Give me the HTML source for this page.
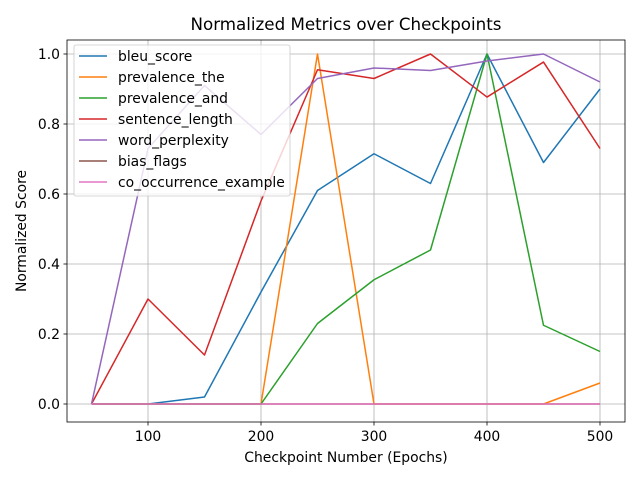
<!DOCTYPE html>
<html><head><meta charset="utf-8"><style>
body{margin:0;background:#fff;font-family:"Liberation Sans","DejaVu Sans",sans-serif}
svg text{font-family:"DejaVu Sans","Liberation Sans",sans-serif;fill:#000}
</style></head><body>
<svg id="chart" width="640" height="480" xmlns="http://www.w3.org/2000/svg">
<rect width="640" height="480" fill="#fff"/>
<g id="grid"></g><g id="lines"></g><g id="axes"></g><g id="legend"></g>
</svg>
<script>
const epochs=[50,100,150,200,250,300,350,400,450,500];
const xTicks=[100,200,300,400,500];
const yTicks=[0.0,0.2,0.4,0.6,0.8,1.0];
const seriesNames=["bleu_score","prevalence_the","prevalence_and","sentence_length","word_perplexity","bias_flags","co_occurrence_example"];
const seriesColors=["#1f77b4","#ff7f0e","#2ca02c","#d62728","#9467bd","#8c564b","#e377c2"];
const bleuScore=[0,0,0.02,0.32,0.61,0.715,0.63,1.0,0.69,0.90];
const prevalenceThe=[0,0,0,0,1.0,0,0,0,0,0.06];
const prevalenceAnd=[0,0,0,0,0.23,0.355,0.44,1.0,0.225,0.15];
const sentenceLength=[0,0.30,0.14,0.58,0.955,0.93,1.0,0.877,0.977,0.73];
const wordPerplexity=[0,0.73,0.91,0.77,0.93,0.96,0.953,0.98,1.0,0.92];
const biasFlags=[0,0,0,0,0,0,0,0,0,0];
const coOccurrence=[0,0,0,0,0,0,0,0,0,0];
const seriesData=[bleuScore,prevalenceThe,prevalenceAnd,sentenceLength,wordPerplexity,biasFlags,coOccurrence];
const L=67,R=625,T=40,B=422;
const xs=v=>148+(v-100)*(600-148)/400;
const ys=v=>404-v*350;
const NS="http://www.w3.org/2000/svg";
function mk(tag,attrs,parent,text){const e=document.createElementNS(NS,tag);for(const k in attrs)e.setAttribute(k,attrs[k]);if(text!==undefined)e.textContent=text;parent.appendChild(e);return e;}
const grid=document.getElementById('grid'),lines=document.getElementById('lines'),axes=document.getElementById('axes'),leg=document.getElementById('legend');
xTicks.forEach(t=>{const x=xs(t);
 const g=mk('line',{x1:x,x2:x,y1:T,y2:B,stroke:'#b0b0b0','stroke-width':0.8},grid);
 
 
 mk('line',{x1:x,x2:x,y1:B,y2:B+3.5,stroke:'#000','stroke-width':0.8},axes);
 const tl=mk('text',{x:x,y:B+19,'font-size':13.9,'text-anchor':'middle'},axes,String(t));
 
 
});
yTicks.forEach(t=>{const y=ys(t);
 const g=mk('line',{x1:L,x2:R,y1:y,y2:y,stroke:'#b0b0b0','stroke-width':0.8},grid);
 
 
 mk('line',{x1:L-3.5,x2:L,y1:y,y2:y,stroke:'#000','stroke-width':0.8},axes);
 const tl=mk('text',{x:L-7,y:y+5,'font-size':13.9,'text-anchor':'end'},axes,t.toFixed(1));
 
 
});
seriesData.forEach((d,i)=>{
 const p=mk('polyline',{points:d.map((v,j)=>xs(epochs[j])+','+ys(v)).join(' '),fill:'none',stroke:seriesColors[i],'stroke-width':1.5,'stroke-linejoin':'round'},lines);
 
 
});
const frame=mk('rect',{x:L,y:T,width:R-L,height:B-T,fill:'none',stroke:'#000','stroke-width':0.8},axes);


const title=mk('text',{x:(L+R)/2,y:T-10,'font-size':16.7,'text-anchor':'middle'},axes,'Normalized Metrics over Checkpoints');


const xt=mk('text',{x:(L+R)/2,y:462,'font-size':13.9,'text-anchor':'middle'},axes,'Checkpoint Number (Epochs)');


const yt=mk('text',{x:26,y:(T+B)/2,'font-size':13.9,'text-anchor':'middle',transform:'rotate(-90 26 '+((T+B)/2)+')'},axes,'Normalized Score');


const lb=mk('rect',{x:74,y:45,width:216,height:151,rx:2,fill:'#fff','fill-opacity':0.8,stroke:'#ccc','stroke-width':0.8},leg);


seriesNames.forEach((n,i)=>{const y=56+i*21;
 const g=mk('g',{},leg);
 
 
 mk('line',{x1:79,x2:107,y1:y,y2:y,stroke:seriesColors[i],'stroke-width':1.5},g);
 mk('text',{x:118,y:y+5,'font-size':13.9},g,n);
});
</script>
</body></html>
